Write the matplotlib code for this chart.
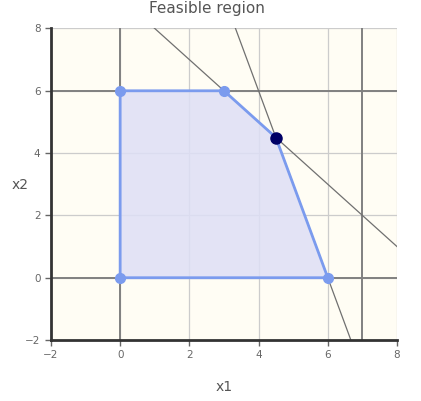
import numpy as np
import matplotlib
matplotlib.use("Agg")
import matplotlib.pyplot as plt

# feasible polygon vertices (x1, x2)
vert_x1 = [0, 0, 3, 4.5, 6]
vert_x2 = [0, 6, 6, 4.5, 0]
optimum = (4.5, 4.5)

# constraint lines a*x1 + b*x2 = c
constraints = [(1, 1, 9), (3, 1, 18)]
bound_x1 = [0, 7]
bound_x2 = [0, 6]

ticks = [-2, 0, 2, 4, 6, 8]

fig = plt.figure(figsize=(4.21, 4.01), dpi=100)
ax = fig.add_axes([0.121, 0.152, 0.822, 0.777])
ax.set_facecolor("#fffdf4")
ax.set_xlim(-2, 8)
ax.set_ylim(-2, 8)

# light grid
for t in ticks[1:]:
    ax.axvline(t, color="#cccccc", lw=0.9, zorder=1)
    ax.axhline(t, color="#cccccc", lw=0.9, zorder=1)

# bound lines
for v in bound_x1:
    ax.axvline(v, color="#808080", lw=1.4, zorder=2)
for v in bound_x2:
    ax.axhline(v, color="#808080", lw=1.4, zorder=2)

# diagonal constraints
xs = np.array([-2, 8])
for a, b, c in constraints:
    ax.plot(xs, (c - a * xs) / b, color="#707070", lw=0.9, zorder=3)

ax.fill(vert_x1, vert_x2, facecolor="#dedff6", alpha=0.85, edgecolor="none", zorder=4)
ax.plot(vert_x1 + vert_x1[:1], vert_x2 + vert_x2[:1], color="#7b9bee", lw=2, zorder=5)
ax.plot(vert_x1, vert_x2, "o", color="#7b9bee", ms=7, zorder=6)
ax.plot(*optimum, "o", color="#000066", ms=8, zorder=7)

ax.set_xticks(ticks)
ax.set_yticks(ticks)
ax.tick_params(colors="#666666", labelsize=7.5, length=4, width=1)
for s in ["top", "right"]:
    ax.spines[s].set_visible(False)
for s in ["left", "bottom"]:
    ax.spines[s].set_color("#333333")
    ax.spines[s].set_linewidth(2)
    ax.spines[s].set_zorder(8)

fig.text(207 / 421, 1 - 9 / 401, "Feasible region", color="#555555", fontsize=11,
         ha="center", va="center")
ax.set_xlabel("x1", color="#555555", fontsize=10, labelpad=14)
ax.set_ylabel("x2", color="#555555", fontsize=10, rotation=0, ha="center", va="center")
ax.yaxis.set_label_coords(-0.088, 0.498)

fig.savefig("out.png", dpi=100)
